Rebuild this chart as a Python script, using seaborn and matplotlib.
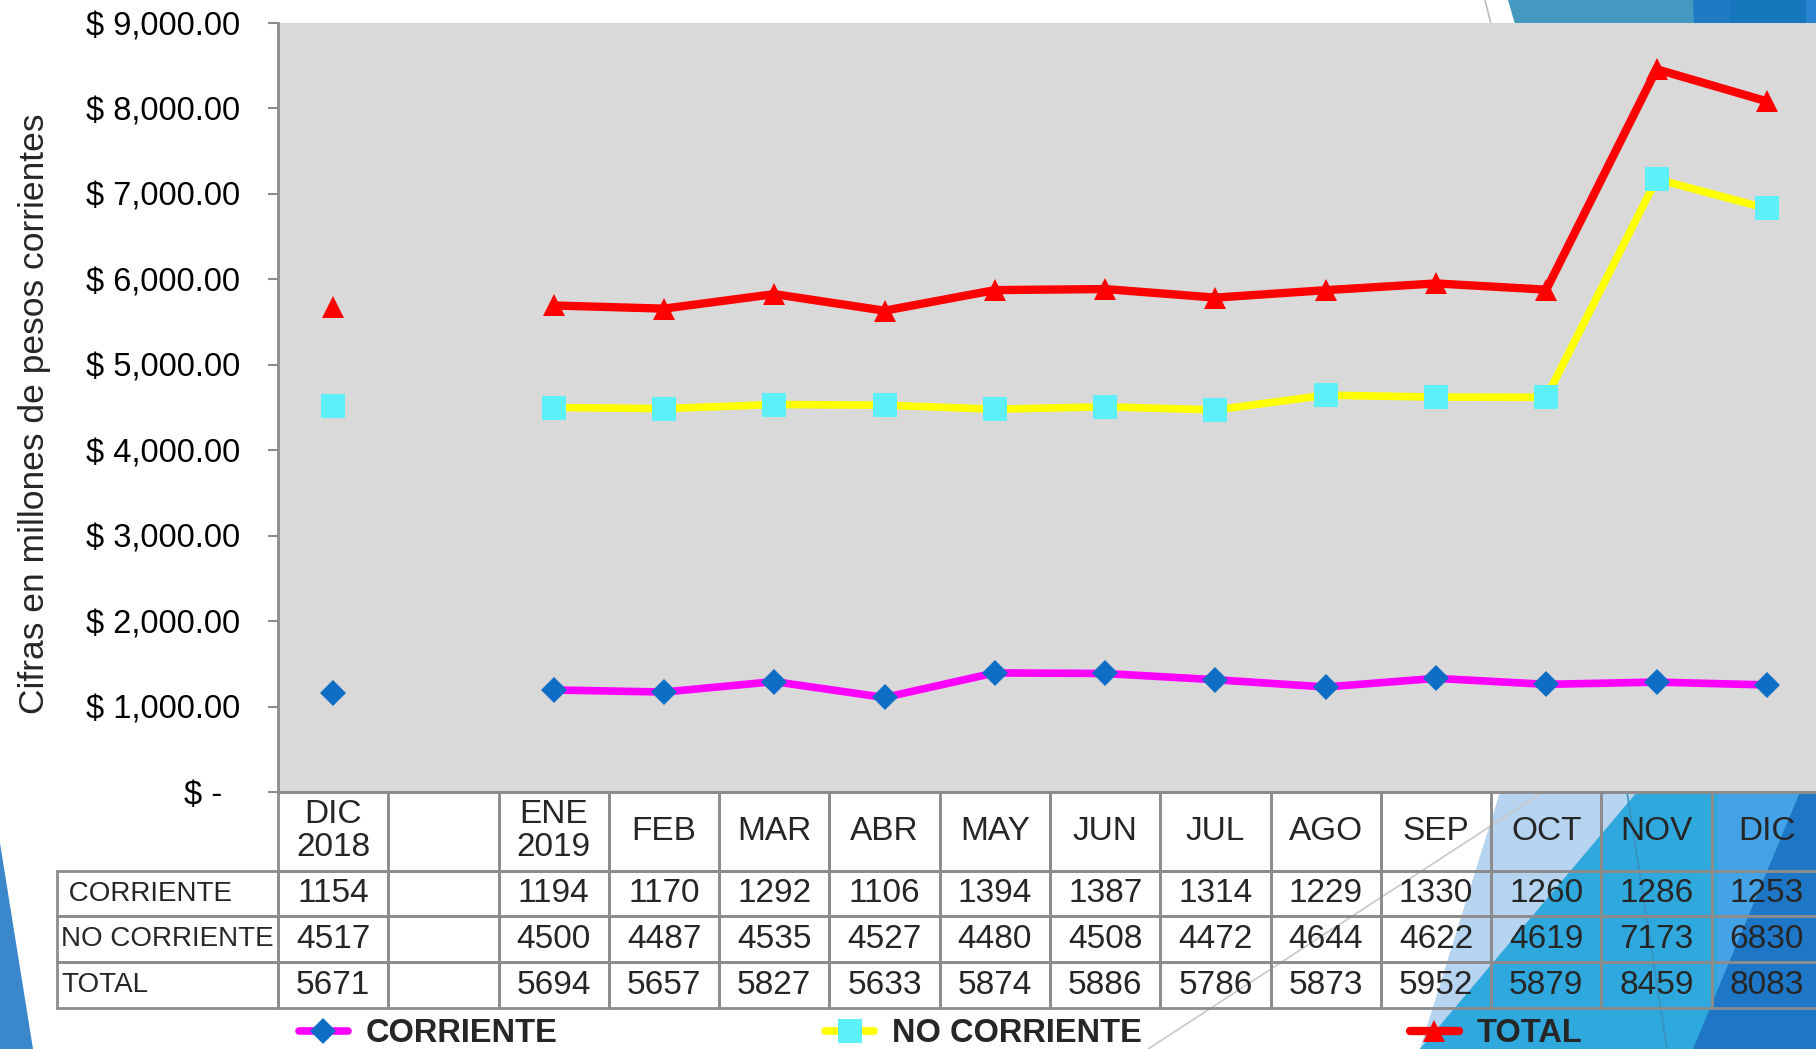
import matplotlib
matplotlib.use('Agg')
import matplotlib.pyplot as plt
import seaborn as sns
import pandas as pd
from matplotlib import font_manager
from matplotlib.lines import Line2D
from matplotlib.patches import Polygon

# datos del cuadro
meses = ['DIC\n2018', '', 'ENE\n2019', 'FEB', 'MAR', 'ABR', 'MAY', 'JUN',
         'JUL', 'AGO', 'SEP', 'OCT', 'NOV', 'DIC']
corriente = [1154, None, 1194, 1170, 1292, 1106, 1394, 1387, 1314, 1229, 1330, 1260, 1286, 1253]
no_corriente = [4517, None, 4500, 4487, 4535, 4527, 4480, 4508, 4472, 4644, 4622, 4619, 7173, 6830]
total = [5671, None, 5694, 5657, 5827, 5633, 5874, 5886, 5786, 5873, 5952, 5879, 8459, 8083]
series = ['CORRIENTE', 'NO CORRIENTE', 'TOTAL']
filas = [' CORRIENTE', 'NO CORRIENTE', 'TOTAL']
yticks = [0, 1000, 2000, 3000, 4000, 5000, 6000, 7000, 8000, 9000]

sns.set_theme(style='white')
plt.rcParams['font.family'] = ['Liberation Sans', 'DejaVu Sans']

try:
    font_manager.findfont('Liberation Sans Narrow', fallback_to_default=False)
    narrow = 'Liberation Sans Narrow'
    tam_tabla, tam_filas, tam_leyenda = 27, 27, 28
except ValueError:
    narrow = 'Liberation Sans'
    tam_tabla, tam_filas, tam_leyenda = 24, 20, 23.5

W, H = 1816, 1049
fig = plt.figure(figsize=(W / 100, H / 100), dpi=100)


def px(puntos):
    return [(x / W, 1 - y / H) for x, y in puntos]


# fondo de la diapositiva
fondos = [
    ('#4399BF', [(1508, 0), (1816, 0), (1816, 400), (1624, 400)]),
    ('#1E7AC2', [(1693, 0), (1816, 0), (1816, 400), (1710, 400)]),
    ('#1777BD', [(1730, 0), (1806, 0), (1806, 400), (1740, 400)]),
    ('#2A84D4', [(1806, 0), (1816, 0), (1816, 400), (1806, 400)]),
    ('#B6D4EF', [(1500, 792), (1816, 792), (1816, 1049), (1420, 1049)]),
    ('#2FA8DD', [(1637, 792), (1816, 792), (1816, 1049), (1420, 1049)]),
    ('#44A2E6', [(1718, 792), (1816, 792), (1816, 1049), (1718, 1049)]),
    ('#1D77C6', [(1800, 792), (1816, 792), (1816, 1049), (1693, 1049)]),
    ('#3A87CC', [(0, 843), (0, 1049), (33, 1049)]),
]
for color, pts in fondos:
    fig.add_artist(Polygon(px(pts), closed=True, transform=fig.transFigure,
                           facecolor=color, edgecolor='none', zorder=-5))
for (x0, y0), (x1, y1), c in [((1485, 0), (1491, 24), '#BBBBBB'),
                              ((1543, 792), (1148, 1049), '#C8C8C8'),
                              ((1627, 792), (1667, 1049), '#3A8FBF')]:
    (a, b), (c2, d) = px([(x0, y0), (x1, y1)])
    fig.add_artist(Line2D([a, c2], [b, d], color=c, lw=1.2,
                          transform=fig.transFigure, zorder=-4))

ax = fig.add_axes([278 / W, 1 - 792 / H, 1544 / W, 769 / H])
ax.set_facecolor('#D9D9D9')

registros = []
for nombre, valores in zip(series, [corriente, no_corriente, total]):
    for i, v in enumerate(valores):
        if v is None:
            continue
        registros.append({'serie': nombre, 'pos': i, 'valor': v, 'tramo': 0 if i == 0 else 1})
df = pd.DataFrame(registros)

estilos = {
    'CORRIENTE': dict(color='#FF00FF', marker='D', markerfacecolor='#0E6EC6', markersize=13.5, lw=5.5),
    'NO CORRIENTE': dict(color='#FFFF00', marker='s', markerfacecolor='#5CF0F8', markersize=17, lw=5.5),
    'TOTAL': dict(color='#FF0000', marker='^', markerfacecolor='#FF0000', markersize=16.5, lw=6),
}
for nombre in series:
    sns.lineplot(data=df[df['serie'] == nombre], x='pos', y='valor', units='tramo',
                 estimator=None, ax=ax, legend=False, markeredgewidth=0,
                 solid_joinstyle='round', solid_capstyle='round', **estilos[nombre])

ax.set_xlim(-0.5, 13.5)
ax.set_ylim(0, 9000)
ax.set_xticks([])
ax.set_xlabel('')
ax.set_yticks(yticks)
ax.set_yticklabels(['$ -  ' if v == 0 else f'$ {v:,.2f}' for v in yticks])
ax.tick_params(axis='y', left=True, length=7.2, width=1.5, color='#8C8C8C',
               pad=20, labelsize=23.5, labelcolor='black')
for lado in ['top', 'right']:
    ax.spines[lado].set_visible(False)
for lado in ['left', 'bottom']:
    ax.spines[lado].set_color('#8C8C8C')
    ax.spines[lado].set_linewidth(2)
ax.set_ylabel('Cifras en millones de pesos corrientes', fontsize=25.5, va='center')
ax.yaxis.set_label_coords(-0.158, 0.492)

# tabla de datos (el bbox cubre solo las columnas de datos)
celdas = [['' if v is None else str(v) for v in valores]
          for valores in [corriente, no_corriente, total]]
tabla = ax.table(cellText=celdas, rowLabels=filas, colLabels=meses,
                 cellLoc='center', rowLoc='left', colLoc='center',
                 colWidths=[1 / 14] * 14,
                 bbox=[0, -216 / 769, 1, 216 / 769])
tabla.auto_set_font_size(False)
for (r, c), celda in tabla.get_celld().items():
    celda.set_height(79 if r == 0 else 46)
    celda.set_facecolor('none')
    celda.set_edgecolor('#8C8C8C')
    celda.set_linewidth(2)
    texto = celda.get_text()
    texto.set_fontfamily(narrow)
    texto.set_fontsize(tam_tabla)
    texto.set_linespacing(1.08)
    if c == -1:
        celda.set_width(220 / 1544)
        celda.PAD = 0.02
        texto.set_fontsize(tam_filas)

manejadores = [Line2D([], [], markeredgewidth=0, **estilos[n]) for n in series]
fig.legend(manejadores, series, loc='center left',
           bbox_to_anchor=(299 / W, 1 - 1034 / H), ncol=3, frameon=False,
           borderpad=0, borderaxespad=0, handlelength=1.5, handletextpad=0.55,
           columnspacing=8.2,
           prop=font_manager.FontProperties(family=narrow, weight='bold', size=tam_leyenda))

fig.savefig('out.png', dpi=100)
